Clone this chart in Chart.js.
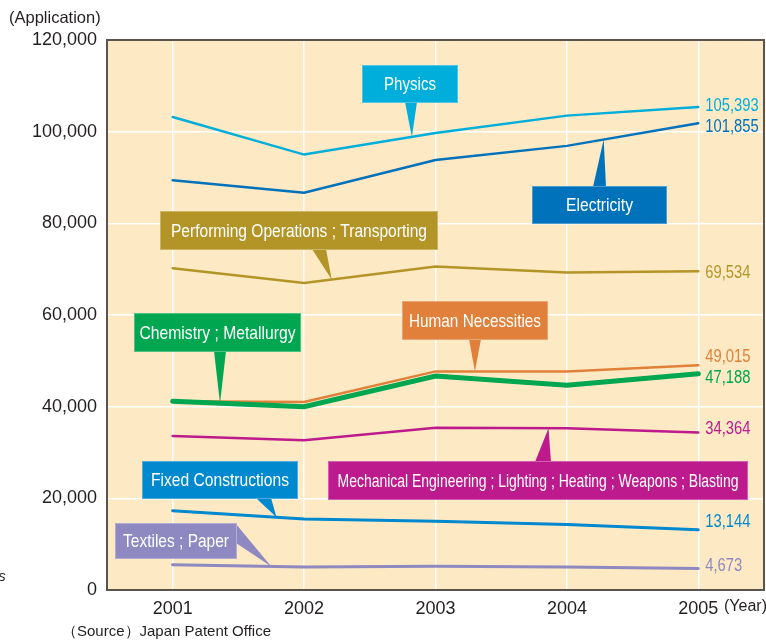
<!DOCTYPE html>
<html>
<head>
<meta charset="utf-8">
<script src="https://cdn.jsdelivr.net/npm/chart.js@4.4.1/dist/chart.umd.min.js"></script>
<style>
  body { margin: 0; background: #ffffff; }
  #wrap { position: relative; width: 766px; height: 641px; overflow: hidden; font-family: "Liberation Sans", Arial, sans-serif; color: #231f20; }
  #chart { position: absolute; left: 0; top: 0; }
  .note { position: absolute; white-space: nowrap; }
</style>
</head>
<body>
<div id="wrap">
  <canvas id="chart" width="766" height="641"></canvas>
  <div class="note" style="left:9px; top:8px; font-size:16.5px;">(Application)</div>
  <div class="note" style="left:724px; top:597px; font-size:16px;">(Year)</div>
  <div class="note" style="left:62px; top:622px; font-size:15px;">（Source）Japan Patent Office</div>
  <div class="note" style="left:-6px; top:567px; font-size:15px; font-style:italic;">ts</div>
</div>
<script>
// ---- data ----
const years = ['2001', '2002', '2003', '2004', '2005'];
const physics       = [103200, 95000, 99700, 103500, 105393];
const electricity   = [89400, 86700, 93800, 96900, 101855];
const transporting  = [70200, 67000, 70600, 69300, 69534];
const chemistry     = [41200, 40000, 46700, 44700, 47188];
const necessities   = [41200, 41000, 47700, 47700, 49015];
const mechanical    = [33600, 32700, 35400, 35300, 34364];
const constructions = [17300, 15500, 15000, 14300, 13144];
const textiles      = [5500, 5000, 5200, 5000, 4673];

const seriesNames = [
    'Physics', 'Electricity', 'Performing Operations ; Transporting',
    'Chemistry ; Metallurgy', 'Human Necessities',
    'Mechanical Engineering ; Lighting ; Heating ; Weapons ; Blasting',
    'Fixed Constructions', 'Textiles ; Paper'
];
const seriesData = [physics, electricity, transporting, chemistry, necessities, mechanical, constructions, textiles];
const seriesColors = ['#00aedb', '#0071bb', '#b39527', '#00a650', '#e0803a', '#bd1b8d', '#0089cf', '#8e89c1'];
const seriesWidths = [2.5, 2.5, 2.5, 5, 2.5, 2.5, 3, 3];

// end value label nudges (px) so they don't collide
const labelShift = [-1, 4, 2, 4, -8, -3, -8, -3];

// callout boxes: box [x, y, w, h], text width, pointer base points, tip as fractional index along the series
const callouts = [
    { ds: 0, box: [362, 65, 96, 38],   tw: 52,  base: [[405, 102], [417, 102]], at: 1.82 },
    { ds: 1, box: [532, 186, 135, 38], tw: 67,  base: [[593, 187], [606, 187]], at: 3.28 },
    { ds: 2, box: [160, 211, 278, 39], tw: 256, base: [[312, 249], [326, 249]], at: 1.21 },
    { ds: 3, box: [134, 313, 167, 39], tw: 156, base: [[214, 351], [226, 351]], at: 0.36 },
    { ds: 4, box: [402, 301, 146, 39], tw: 132, base: [[469, 339], [481, 339]], at: 2.30 },
    { ds: 5, box: [328, 461, 420, 39], tw: 401, base: [[535, 462], [551, 462]], at: 2.86 },
    { ds: 6, box: [142, 461, 156, 38], tw: 138, base: [[256, 498], [271, 498]], at: 0.79 },
    { ds: 7, box: [115, 523, 122, 36], tw: 106, base: [[236, 524], [236, 543]], at: 0.75 }
];

function pointAt(chart, ds, f) {
    const pts = chart.getDatasetMeta(ds).data;
    const i = Math.min(Math.floor(f), pts.length - 2);
    const t = f - i;
    return { x: pts[i].x + (pts[i + 1].x - pts[i].x) * t, y: pts[i].y + (pts[i + 1].y - pts[i].y) * t };
}

// no condensed face installed, so squeeze the regular one horizontally
function narrowText(ctx, text, x, y, sx) {
    ctx.save();
    ctx.translate(x, y);
    ctx.scale(sx, 1);
    ctx.fillText(text, 0, 0);
    ctx.restore();
}

const framePlugin = {
    id: 'frame',
    beforeDraw(chart) {
        const { ctx, chartArea: a } = chart;
        ctx.save();
        ctx.fillStyle = '#fde9c4';
        ctx.fillRect(a.left, a.top, a.right - a.left, a.bottom - a.top);
        ctx.restore();
    },
    afterDatasetsDraw(chart) {
        const { ctx, chartArea: a } = chart;
        ctx.save();

        // frame
        ctx.strokeStyle = '#5b534d';
        ctx.lineWidth = 2;
        ctx.strokeRect(a.left, a.top, a.right - a.left, a.bottom - a.top);

        // value labels at the last year
        ctx.font = '18px "Liberation Sans", Arial, sans-serif';
        ctx.textBaseline = 'middle';
        ctx.textAlign = 'left';
        seriesData.forEach((d, i) => {
            const pts = chart.getDatasetMeta(i).data;
            const last = pts[pts.length - 1];
            ctx.fillStyle = seriesColors[i];
            narrowText(ctx, d[d.length - 1].toLocaleString('en-US'), last.x + 7, last.y + labelShift[i], 0.82);
        });

        // callouts
        ctx.font = '19px "Liberation Sans", Arial, sans-serif';
        ctx.textAlign = 'center';
        callouts.forEach(c => {
            const [x, y, w, h] = c.box;
            const tip = pointAt(chart, c.ds, c.at);
            ctx.fillStyle = seriesColors[c.ds];
            ctx.fillRect(x, y, w, h);
            ctx.beginPath();
            ctx.moveTo(c.base[0][0], c.base[0][1]);
            ctx.lineTo(tip.x, tip.y);
            ctx.lineTo(c.base[1][0], c.base[1][1]);
            ctx.closePath();
            ctx.fill();
            ctx.strokeStyle = 'rgba(255,255,255,0.3)';
            ctx.lineWidth = 1;
            ctx.strokeRect(x + 0.5, y + 0.5, w - 1, h - 1);
            ctx.fillStyle = '#ffffff';
            const name = seriesNames[c.ds];
            narrowText(ctx, name, x + w / 2, y + h / 2 + 1, c.tw / ctx.measureText(name).width);
        });
        ctx.restore();
    }
};

new Chart(document.getElementById('chart'), {
    type: 'line',
    data: {
        labels: years,
        datasets: seriesData.map((d, i) => ({
            label: seriesNames[i],
            data: d,
            borderColor: seriesColors[i],
            borderWidth: seriesWidths[i],
            pointRadius: 0,
            tension: 0,
            fill: false,
            borderCapStyle: 'round'
        }))
    },
    options: {
        responsive: false,
        animation: false,
        devicePixelRatio: 1,
        layout: { padding: { top: 40, right: 2, left: 0, bottom: 0 } },
        plugins: { legend: { display: false }, tooltip: { enabled: false } },
        scales: {
            x: {
                offset: true,
                grid: { offset: false, color: '#ffffff', lineWidth: 1.5, drawTicks: false },
                border: { display: false },
                ticks: { color: '#231f20', font: { family: '"Liberation Sans", Arial', size: 18 }, padding: 8 },
                afterFit: s => { s.height = 51; }
            },
            y: {
                min: 0,
                max: 120000,
                grid: { color: '#ffffff', lineWidth: 1.5, drawTicks: false },
                border: { display: false },
                ticks: {
                    stepSize: 20000,
                    color: '#231f20',
                    font: { family: '"Liberation Sans", Arial', size: 18 },
                    padding: 10,
                    callback: v => v.toLocaleString('en-US')
                },
                afterFit: s => { s.width = 107; }
            }
        }
    },
    plugins: [framePlugin]
});
</script>
</body>
</html>
